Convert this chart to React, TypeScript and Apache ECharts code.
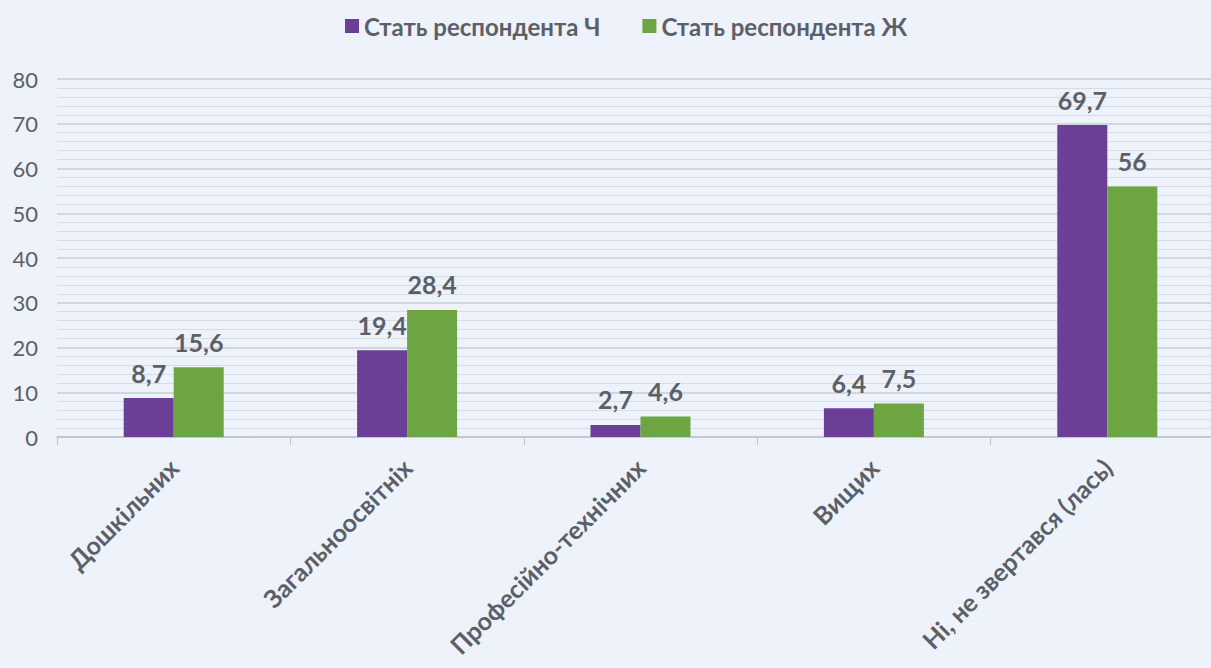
import React, { useEffect, useRef } from "react";
import * as echarts from "echarts";

const categories = ["Дошкільних", "Загальноосвітніх", "Професійно-технічних", "Вищих", "Ні, не звертався (лась)"];
const seriesNames = ["Стать респондента Ч", "Стать респондента Ж"];
const maleValues = [8.7, 19.4, 2.7, 6.4, 69.7];
const femaleValues = [15.6, 28.4, 4.6, 7.5, 56];
const colors = ["#6B3F98", "#6CA541"];
const FONT = "Lato, 'Open Sans', sans-serif";
const TEXT = "#5B6068";

export default function App() {
  const ref = useRef<HTMLDivElement>(null);
  useEffect(() => {
    const chart = echarts.init(ref.current!, null, { renderer: "svg" });
    const label = {
      show: true,
      position: "top",
      distance: 13,
      color: TEXT,
      fontFamily: FONT,
      fontWeight: "bold",
      fontSize: 25,
      formatter: (p: any) => String(p.value).replace(".", ","),
    };
    chart.setOption({
      animation: false,
      backgroundColor: "#EEF2FA",
      legend: {
        top: 9,
        left: 340,
        itemWidth: 14,
        itemHeight: 14,
        itemGap: 42,
        icon: "rect",
        textStyle: { color: TEXT, fontFamily: FONT, fontWeight: "bold", fontSize: 24 },
        data: seriesNames,
      },
      grid: { left: 57, top: 79, width: 1167, height: 358, containLabel: false },
      xAxis: {
        type: "category",
        data: categories,
        axisLine: { lineStyle: { color: "#BFC3CA", width: 1.5 } },
        axisTick: { show: true, length: 8, lineStyle: { color: "#BFC3CA" } },
        axisLabel: {
          rotate: 45,
          interval: 0,
          margin: 26,
          color: TEXT,
          fontFamily: FONT,
          fontWeight: "bold",
          fontSize: 25,
        },
      },
      yAxis: {
        type: "value",
        min: 0,
        max: 80,
        interval: 10,
        axisLine: { show: false },
        axisTick: { show: false },
        axisLabel: { margin: 19, color: TEXT, fontFamily: FONT, fontSize: 22 },
        splitLine: { lineStyle: { color: "#C9CDD5", width: 1.5 } },
        minorTick: { show: false, splitNumber: 5 },
        minorSplitLine: { show: true, lineStyle: { color: "#D8DCE4", width: 1 } },
      },
      series: [
        {
          name: seriesNames[0],
          type: "bar",
          data: maleValues,
          barWidth: 50,
          barGap: "0%",
          itemStyle: { color: colors[0] },
          label,
        },
        {
          name: seriesNames[1],
          type: "bar",
          data: femaleValues,
          barWidth: 50,
          barGap: "0%",
          itemStyle: { color: colors[1] },
          label,
        },
      ],
    });
    return () => chart.dispose();
  }, []);
  return (
    <div style={{ position: "fixed", left: 0, top: 0, width: 1211, height: 668, overflow: "hidden", background: "#EEF2FA" }}>
      <div ref={ref} style={{ width: 1225, height: 668 }} />
    </div>
  );
}
